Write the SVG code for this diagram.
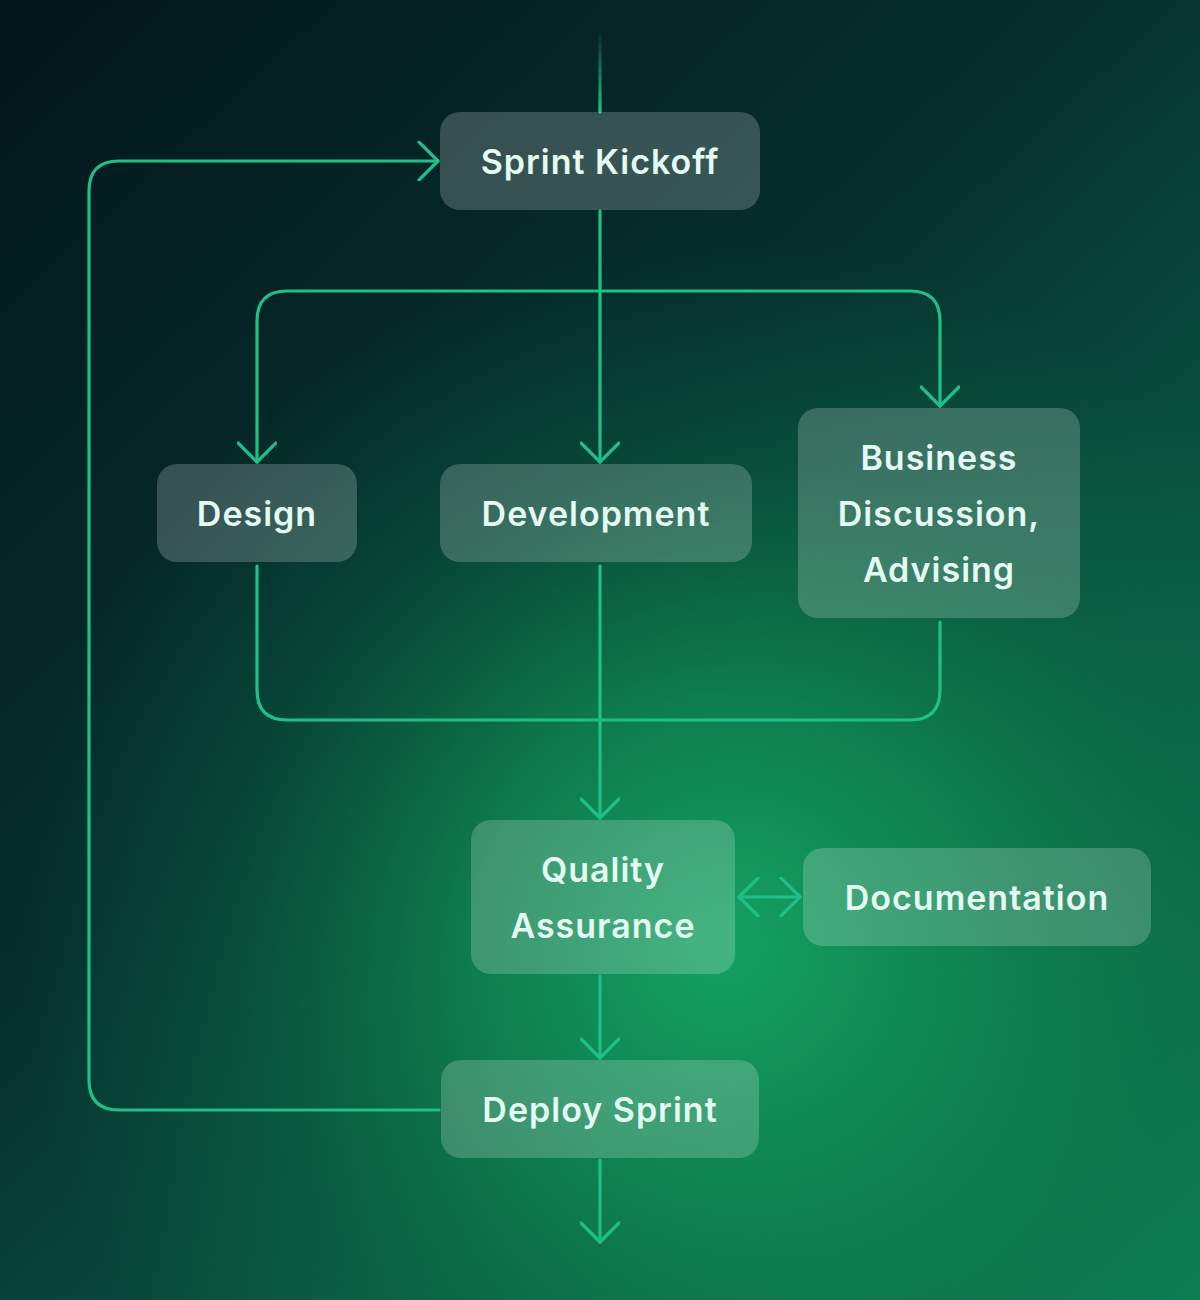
<svg xmlns="http://www.w3.org/2000/svg" width="1200" height="1300" viewBox="0 0 1200 1300">
  <defs>
    <linearGradient id="bgl" gradientUnits="userSpaceOnUse" x1="0" y1="0" x2="1200" y2="1300">
      <stop offset="0" stop-color="#03161c"/>
      <stop offset="0.42" stop-color="#062f2d"/>
      <stop offset="0.7" stop-color="#0a5842"/>
      <stop offset="1" stop-color="#0e7e54"/>
    </linearGradient>
    <radialGradient id="glow" gradientUnits="userSpaceOnUse" cx="720" cy="940" r="700">
      <stop offset="0" stop-color="#15a766" stop-opacity="0.95"/>
      <stop offset="0.35" stop-color="#119456" stop-opacity="0.7"/>
      <stop offset="0.7" stop-color="#0c7a4c" stop-opacity="0.3"/>
      <stop offset="1" stop-color="#0c7a4c" stop-opacity="0"/>
    </radialGradient>
    <linearGradient id="topfade" gradientUnits="userSpaceOnUse" x1="0" y1="30" x2="0" y2="110">
      <stop offset="0" stop-color="#1fbf88" stop-opacity="0"/>
      <stop offset="1" stop-color="#1fbf88" stop-opacity="1"/>
    </linearGradient>
    <marker id="arr" viewBox="0 0 24 40" refX="21" refY="20" markerWidth="24" markerHeight="40" markerUnits="userSpaceOnUse" orient="auto-start-reverse">
      <path d="M2,1 L21,20 L2,39" fill="none" stroke="#1fbf88" stroke-width="3.2" stroke-linecap="round" stroke-linejoin="round"/>
    </marker>
  </defs>
  <style>
    .node rect { fill: #ffffff; fill-opacity: 0.2; }
    .node text { font-family: Inter, "Noto Sans", "DejaVu Sans", sans-serif; font-weight: 600; font-size: 34px; fill: #e3fbf2; text-anchor: middle; dominant-baseline: central; letter-spacing: 1px; }
    .conn path, .conn line { fill: none; stroke: #1fbf88; stroke-width: 3.2; stroke-linecap: round; stroke-linejoin: round; }
  </style>
  <rect width="1200" height="1300" fill="url(#bgl)"/>
  <rect width="1200" height="1300" fill="url(#glow)"/>

  <g id="connectors" class="conn">
    <line x1="600" y1="30" x2="600" y2="112" style="stroke:url(#topfade)"/>
    <path d="M600,211 L600,462" marker-end="url(#arr)"/>
    <path d="M600,291 L287,291 Q257,291 257,321 L257,462" marker-end="url(#arr)"/>
    <path d="M600,291 L910,291 Q940,291 940,321 L940,406" marker-end="url(#arr)"/>
    <path d="M257,566 L257,690 Q257,720 287,720 L910,720 Q940,720 940,690 L940,622"/>
    <path d="M600,566 L600,818" marker-end="url(#arr)"/>
    <path d="M600,976 L600,1058" marker-end="url(#arr)"/>
    <path d="M600,1160 L600,1242" marker-end="url(#arr)"/>
    <path d="M439,1110 L119,1110 Q89,1110 89,1080 L89,191 Q89,161 119,161 L438,161" marker-end="url(#arr)"/>
    <path d="M739,897 L800,897" marker-start="url(#arr)" marker-end="url(#arr)"/>
  </g>

  <g id="node-sprint-kickoff" class="node">
    <rect x="440" y="112" width="320" height="98" rx="20"/>
    <text x="600" y="161">Sprint Kickoff</text>
  </g>
  <g id="node-design" class="node">
    <rect x="157" y="464" width="200" height="98" rx="20"/>
    <text x="257" y="513">Design</text>
  </g>
  <g id="node-development" class="node">
    <rect x="440" y="464" width="312" height="98" rx="20"/>
    <text x="596" y="513">Development</text>
  </g>
  <g id="node-business" class="node">
    <rect x="798" y="408" width="282" height="210" rx="20"/>
    <text x="939" y="457">Business</text>
    <text x="939" y="513">Discussion,</text>
    <text x="939" y="569">Advising</text>
  </g>
  <g id="node-qa" class="node">
    <rect x="471" y="820" width="264" height="154" rx="20"/>
    <text x="603" y="869">Quality</text>
    <text x="603" y="925">Assurance</text>
  </g>
  <g id="node-documentation" class="node">
    <rect x="803" y="848" width="348" height="98" rx="20"/>
    <text x="977" y="897">Documentation</text>
  </g>
  <g id="node-deploy" class="node">
    <rect x="441" y="1060" width="318" height="98" rx="20"/>
    <text x="600" y="1109">Deploy Sprint</text>
  </g>
</svg>
